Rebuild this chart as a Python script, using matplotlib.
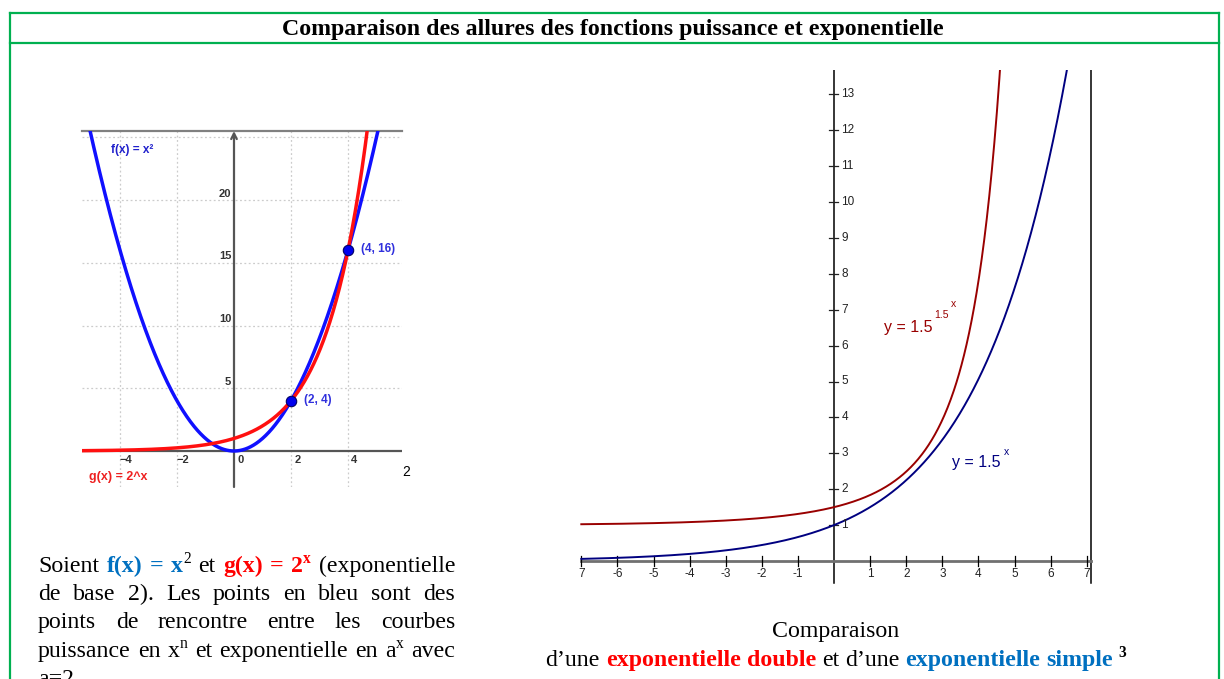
import numpy as np
import matplotlib
matplotlib.use("Agg")
import matplotlib.pyplot as plt
from matplotlib.lines import Line2D

W, H = 1224, 679

# --- left graph: f(x) = x^2 and g(x) = 2^x
power_n = 2
exp_a = 2
meet_x = [2, 4]
meet_y = [4, 16]
meet_labels = ["(2, 4)", "(4, 16)"]
left_xticks = [-4, -2, 0, 2, 4]
left_xgrid = [-4, -2, 2, 4]
left_yticks = [5, 10, 15, 20]
left_ygrid = [5, 10, 15, 20, 25]

# --- right graph: simple and double exponential, base 1.5
base = 1.5
right_xticks = [-7, -6, -5, -4, -3, -2, -1, 1, 2, 3, 4, 5, 6, 7]
right_xlabels = ["7", "-6", "-5", "-4", "-3", "-2", "-1", "1", "2", "3", "4", "5", "6", "7"]
right_yticks = list(range(1, 14))

GREEN = "#00B050"
BLUE_TXT = "#0070C0"
RED_TXT = "#FF0000"
SERIF = ["Liberation Serif", "DejaVu Serif"]
SANS = ["Liberation Sans", "DejaVu Sans"]

fig = plt.figure(figsize=(W / 100, H / 100), dpi=100)
renderer = fig.canvas.get_renderer()


def put(x, y, s, **kw):
    return fig.text(x / W, 1 - y / H, s, **kw)


def run_style(size, color, weight, sup):
    fs = size * 0.65 if sup else size
    return dict(fontsize=fs, color=color, fontweight=weight, family=SERIF,
                va="baseline", ha="left")


def draw_word(x, y, runs, size):
    for s, color, weight, sup in runs:
        dy = size * 0.36 * 100 / 72 if sup else 0
        t = put(x, y - dy, s, **run_style(size, color, weight, sup))
        x = x + t.get_window_extent(renderer).width
    return x


def word_width(runs, size):
    w = 0
    for s, color, weight, sup in runs:
        t = put(0, 0, s, **run_style(size, color, weight, sup))
        w += t.get_window_extent(renderer).width
        t.remove()
    return w


def N(s, c="black"):
    return (s, c, "normal", False)


def B(s, c):
    return (s, c, "bold", False)


def sup(s, c="black", w="normal"):
    return (s, c, w, True)


def draw_line(words, x0, y, size, right=None, center=None):
    widths = [word_width(wd, size) for wd in words]
    space = 0.25 * size * 100 / 72
    if right is not None and len(words) > 1:
        space = (right - x0 - sum(widths)) / (len(words) - 1)
    total = sum(widths) + space * (len(words) - 1)
    if center is not None:
        x0 = center - total / 2
    x = x0
    for wd, w in zip(words, widths):
        draw_word(x, y, wd, size)
        x += w + space


# green frame and title row
for (xa, ya, xb, yb) in [(10, 13, 1219, 13), (10, 43, 1219, 43),
                         (10, 13, 10, 679), (1219, 13, 1219, 679)]:
    fig.add_artist(Line2D([xa / W, xb / W], [1 - ya / H, 1 - yb / H],
                          color=GREEN, lw=1.6, transform=fig.transFigure))

FS = 17.2
put(613, 35, "Comparaison des allures des fonctions puissance et exponentielle",
    fontsize=FS, fontweight="bold", family=SERIF, ha="center", va="baseline")

# ---------------- left graph ----------------
ax1 = fig.add_axes([82 / W, 1 - 487 / H, 320 / W, 356 / H])
x0l, x1l = (82 - 234) / 28.5, (402 - 234) / 28.5
y0l, y1l = (451 - 487) / 12.55, (451 - 131) / 12.55
ax1.set_xlim(x0l, x1l)
ax1.set_ylim(y0l, y1l)
ax1.set_xticks([])
ax1.set_yticks([])
for s in ["left", "right", "bottom"]:
    ax1.spines[s].set_visible(False)
ax1.spines["top"].set_color("#808080")
ax1.spines["top"].set_linewidth(1.6)

for gx in left_xgrid:
    ax1.axvline(gx, color="#cccccc", lw=0.9, ls=(0, (1.5, 2)), zorder=1)
for gy in left_ygrid:
    ax1.axhline(gy, color="#cccccc", lw=0.9, ls=(0, (1.5, 2)), zorder=1)

ax1.axhline(0, color="#555555", lw=1.6, zorder=2)
ax1.annotate("", xy=(0, y1l), xytext=(0, y0l),
             arrowprops=dict(arrowstyle="->", color="#555555", lw=1.6,
                             shrinkA=0, shrinkB=0), zorder=2)

for tx in left_xticks:
    ax1.text(tx + 0.22, -0.35, str(tx).replace("-", "\u2212") if tx else "0",
             fontsize=8, family=SANS, fontweight="bold", color="#333333",
             ha="center", va="top")
for ty in left_yticks:
    ax1.text(-0.1, ty + 0.1, str(ty), fontsize=8, family=SANS,
             fontweight="bold", color="#333333", ha="right", va="bottom")

xs = np.linspace(x0l, x1l, 600)
ax1.plot(xs, xs ** power_n, color="#1010ff", lw=2.5, zorder=3,
         solid_capstyle="butt")
ax1.plot(xs, exp_a ** xs, color="#ff1010", lw=2.5, zorder=4,
         solid_capstyle="butt")
ax1.plot(meet_x, meet_y, "o", ms=7.5, color="#0000ee", mec="#000066",
         mew=0.8, zorder=5, clip_on=False)
for mx, my, lab in zip(meet_x, meet_y, meet_labels):
    ax1.text(mx + 0.45, my + 0.1, lab, fontsize=8.5,
             family=SANS, fontweight="bold", color="#3030dd",
             ha="left", va="center")

ax1.text(-4.32, 24.0, "f(x) = x\u00b2", fontsize=8.5, family=SANS,
         fontweight="bold", color="#2020cc", ha="left", va="center")
ax1.text(-5.09, -2.07, "g(x) = 2^x", fontsize=9, family=SANS,
         fontweight="bold", color="#ee2020", ha="left", va="center")

put(406, 472, "2", fontsize=10, family=SANS, ha="center", va="center")

# ---------------- right graph ----------------
ux, uy = 36.1, 35.9
ax2 = fig.add_axes([570 / W, 1 - 590 / H, 530 / W, 520 / H])
ax2.set_xlim((570 - 834) / ux, (1100 - 834) / ux)
ax2.set_ylim((561 - 590) / uy, (561 - 70) / uy)
ax2.axis("off")

ybot, ytop = -0.6, (561 - 70) / uy
ax2.plot([0, 0], [ybot, ytop], color="black", lw=1.1)
ax2.plot([7.12, 7.12], [ybot, ytop], color="black", lw=1.1)
ax2.plot([-7, 7.12], [0, 0], color="#707070", lw=2.0)

for tx, lab in zip(right_xticks, right_xlabels):
    ax2.plot([tx, tx], [-0.15, 0.15], color="black", lw=0.9)
    ax2.text(tx, -0.36, lab, fontsize=8.5, family=SANS, color="#222222",
             ha="center", va="center")
for ty in right_yticks:
    ax2.plot([-0.15, 0.12], [ty, ty], color="#222222", lw=0.9)
    ax2.text(0.2, ty, str(ty), fontsize=8.5, family=SANS, color="#222222",
             ha="left", va="center")

xr = np.linspace(-7, 7, 800)
ax2.plot(xr, base ** (base ** xr), color="#990000", lw=1.4)
ax2.plot(xr, base ** xr, color="#000080", lw=1.4)

put(884, 327, "y = 1.5", fontsize=11.5, family=SANS, color="#990000",
    ha="left", va="center")
put(934, 315, "1.5", fontsize=7.5, family=SANS, color="#990000",
    ha="left", va="center")
put(951, 304, "x", fontsize=7.5, family=SANS, color="#990000",
    ha="left", va="center")
put(952, 463, "y = 1.5", fontsize=11.5, family=SANS, color="#000080",
    ha="left", va="center")
put(1004, 452, "x", fontsize=7.5, family=SANS, color="#000080",
    ha="left", va="center")

# ---------------- text under the graphs ----------------
para = [
    [[N("Soient")], [B("f(x)", BLUE_TXT)], [B("=", BLUE_TXT)],
     [B("x", BLUE_TXT), sup("2")], [N("et")], [B("g(x)", RED_TXT)],
     [B("=", RED_TXT)], [B("2", RED_TXT), sup("x", RED_TXT, "bold")],
     [N("(exponentielle")]],
    [[N(w)] for w in "de base 2). Les points en bleu sont des".split()],
    [[N(w)] for w in "points de rencontre entre les courbes".split()],
    [[N("puissance")], [N("en")], [N("x"), sup("n")], [N("et")],
     [N("exponentielle")], [N("en")], [N("a"), sup("x")], [N("avec")]],
]
baselines = [572, 600, 628, 657]
for words, yb in zip(para, baselines):
    draw_line(words, 38, yb, FS, right=455)
draw_line([[N("a=2.")]], 38, 685, FS)

draw_line([[N("Comparaison")]], 0, 637, FS, center=836)
draw_line([[N("d\u2019une")], [B("exponentielle", RED_TXT)], [B("double", RED_TXT)],
           [N("et")], [N("d\u2019une")], [B("exponentielle", BLUE_TXT)],
           [B("simple", BLUE_TXT)], [sup("3", "black", "bold")]],
          0, 666, FS, center=836)

fig.savefig("out.png", dpi=100)
